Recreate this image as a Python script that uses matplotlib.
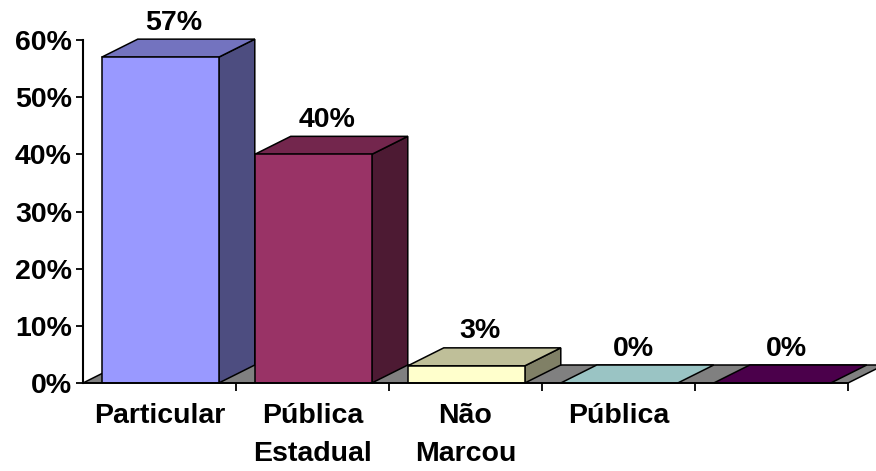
import matplotlib
matplotlib.use("Agg")
import matplotlib.pyplot as plt
from matplotlib.patches import Polygon

# data
categories = ["Particular", "Pública\nEstadual", "Não\nMarcou", "Pública", ""]
values = [57, 40, 3, 0, 0]
value_labels = ["57%", "40%", "3%", "0%", "0%"]
front_colors = ["#9999FF", "#993366", "#FFFFCC", "#99CCCC", "#660066"]
top_colors = ["#7373BF", "#73264D", "#BFBF99", "#9AC4C4", "#4B004B"]
side_colors = ["#4D4D80", "#4D1A33", "#808066", "#4D6666", "#330033"]
yticks = [0, 10, 20, 30, 40, 50, 60]

plt.rcParams['font.family'] = ['Liberation Sans', 'DejaVu Sans']
plt.rcParams['font.weight'] = 'bold'
fs = 20.5

fig = plt.figure(figsize=(8.76, 4.71), dpi=100)
ax = fig.add_axes([83 / 876, 88 / 471, 765 / 876, 343 / 471])

n = len(values)
dx = 36 / 153      # depth offset in category units
dy = 18 / 343 * 60  # depth offset in percent units
bw = 0.765
lw = 1.1

# floor
floor = Polygon([(0, 0), (n, 0), (n + dx, dy), (dx, dy)], closed=True,
                facecolor="#808080", edgecolor="black", lw=lw, zorder=1, clip_on=False)
ax.add_patch(floor)

for i, v in enumerate(values):
    left = i + 0.505 - bw / 2
    right = left + bw
    side = Polygon([(right, 0), (right + dx, dy), (right + dx, v + dy), (right, v)],
                   closed=True, facecolor=side_colors[i], edgecolor="black",
                   lw=lw, zorder=2, clip_on=False)
    top = Polygon([(left, v), (right, v), (right + dx, v + dy), (left + dx, v + dy)],
                  closed=True, facecolor=top_colors[i], edgecolor="black",
                  lw=lw, zorder=2, clip_on=False)
    if v > 0:
        ax.add_patch(side)
    ax.add_patch(top)
    if v > 0:
        ax.bar(left, v, width=bw, align="edge", color=front_colors[i],
               edgecolor="black", lw=lw, zorder=3)
    ax.text(i + 0.505 + 0.09, v + dy + 0.6, value_labels[i], ha="center", va="bottom",
            fontsize=fs, fontweight="bold", zorder=5)

ax.set_xlim(0, n)
ax.set_ylim(0, 60)
ax.set_yticks(yticks)
ax.set_yticklabels([f"{t}%" for t in yticks])
ax.set_xticks(range(1, n + 1))
ax.set_xticklabels([])
ax.set_xticks([i + 0.5 for i in range(n)], minor=True)
ax.set_xticklabels(categories, minor=True, linespacing=1.6)
ax.tick_params(axis="x", which="major", direction="out", length=6, width=1.3)
ax.tick_params(axis="x", which="minor", length=0, pad=14.5, labelsize=fs)
ax.tick_params(axis="y", direction="out", length=5, width=1.3, pad=3, labelsize=fs)

for s in ["top", "right"]:
    ax.spines[s].set_visible(False)
ax.spines["left"].set_linewidth(1.5)
ax.spines["bottom"].set_linewidth(1.3)
ax.spines["bottom"].set_zorder(4)

fig.savefig("out.png", dpi=100)
